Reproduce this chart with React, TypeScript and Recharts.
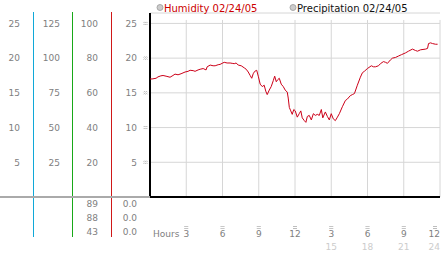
import React from "react";
import { CartesianGrid, Line, LineChart, ReferenceLine, XAxis, YAxis } from "recharts";

// humidity trace, hour of day -> value
const hours = [
  0, 0.17, 0.5, 0.66, 0.9, 1.08, 1.33, 1.66, 1.9, 2.07, 2.32, 2.57, 2.9, 3.15, 3.32, 3.57, 3.73, 3.98,
  4.15, 4.4, 4.64, 4.73, 4.98, 5.22, 5.39, 5.64, 5.8, 5.97, 6.14, 6.38, 6.63, 6.8, 6.97, 7.13, 7.3,
  7.55, 7.8, 7.96, 8.13, 8.29, 8.42, 8.54, 8.67, 8.83, 8.96, 9.12, 9.29, 9.45, 9.58, 9.7, 9.87, 10.03,
  10.2, 10.32, 10.45, 10.57, 10.7, 10.86, 11.03, 11.19, 11.36, 11.44, 11.53, 11.65, 11.77, 11.9, 12.02,
  12.19, 12.35, 12.48, 12.6, 12.77, 12.9, 13.02, 13.18, 13.35, 13.52, 13.68, 13.85, 14.01, 14.18, 14.3,
  14.51, 14.68, 14.84, 15.0, 15.17, 15.34, 15.51, 15.67, 15.92, 16.17, 16.33, 16.58, 16.75, 16.92,
  17.16, 17.41, 17.58, 17.74, 17.99, 18.32, 18.49, 18.66, 18.91, 19.07, 19.32, 19.49, 19.65, 19.9,
  20.07, 20.32, 20.56, 20.81, 21.14, 21.39, 21.72, 21.97, 22.14, 22.39, 22.8, 22.97, 23.05, 23.22,
  23.38, 23.63, 23.8,
];
const humidity = [
  17.0, 17.0, 17.1, 17.3, 17.45, 17.5, 17.4, 17.25, 17.5, 17.7, 17.6, 17.75, 18.0, 18.1, 18.25, 18.2,
  18.1, 18.3, 18.4, 18.5, 18.3, 18.75, 19.0, 18.9, 18.9, 19.05, 19.1, 19.25, 19.4, 19.3, 19.3, 19.25,
  19.2, 19.3, 19.0, 18.9, 18.6, 18.4, 18.0, 17.5, 17.1, 17.75, 18.1, 18.25, 17.4, 16.25, 15.9, 16.1,
  15.25, 14.75, 15.4, 15.9, 16.75, 17.4, 16.6, 16.9, 17.1, 16.25, 15.9, 15.4, 15.1, 14.25, 12.9, 12.4,
  11.9, 12.6, 12.4, 11.5, 12.0, 12.4, 11.4, 11.0, 10.75, 11.6, 11.75, 11.1, 12.0, 11.75, 11.9, 11.75,
  12.6, 11.4, 12.25, 11.6, 11.1, 12.0, 11.25, 11.0, 11.5, 12.0, 13.0, 13.9, 14.1, 14.6, 14.75, 14.9,
  16.1, 17.25, 17.9, 18.1, 18.5, 18.9, 18.75, 18.75, 18.9, 19.2, 19.5, 19.4, 19.25, 19.75, 20.0, 20.1,
  20.3, 20.5, 20.75, 21.0, 21.3, 21.1, 21.0, 21.2, 21.3, 21.4, 22.1, 22.2, 22.1, 22.0, 22.0,
];

const hourTicks = [3, 6, 9, 12, 15, 18, 21, 24];
const hourLabels = ["3", "6", "9", "12", "3", "6", "9", "12"];
const hourLabels24 = ["", "", "", "", "15", "18", "21", "24"];

// the four left-hand scales share the same gridlines
const humidityTicks = [5, 10, 15, 20, 25];
const col1Ticks = [5, 10, 15, 20, 25];
const col2Ticks = [25, 50, 75, 100, 125];
const col3Ticks = [20, 40, 60, 80, 100];

const col3Footer = ["89", "88", "43"];
const col4Footer = ["0.0", "0.0", "0.0"];

const data = hours.map((h, i) => ({ hour: h, humidity: humidity[i] }));

const FONT = "'DejaVu Sans', sans-serif";
const LABEL = "#808080";
const GRID = "#d6d6d6";

// tiny "≈" style tick mark, drawn as two short zigzags
const Squiggle = ({ x, y }: { x: number; y: number }) => (
  <path
    d={`M${x - 2} ${y - 0.5} l1 -1 l1 1 l1 -1 l1 1 M${x - 2} ${y + 1.5} l1 -1 l1 1 l1 -1 l1 1`}
    fill="none"
    stroke="#a0a0a0"
    strokeWidth={0.7}
  />
);

const LeftTick = (props: any) => {
  const { y, payload } = props;
  const i = humidityTicks.indexOf(payload.value);
  const cols: [number, number][] = [
    [20, col1Ticks[i]],
    [60, col2Ticks[i]],
    [98, col3Ticks[i]],
    [137, humidityTicks[i]],
  ];
  return (
    <g>
      {cols.map(([right, v]) => (
        <text key={right} x={right} y={y} dy={3.3} textAnchor="end" fontSize={9} fill={LABEL} fontFamily={FONT}>
          {v}
        </text>
      ))}
      <Squiggle x={145.5} y={y} />
    </g>
  );
};

const HourTick = (props: any) => {
  const { x, payload } = props;
  const i = hourTicks.indexOf(payload.value);
  const last = i === hourTicks.length - 1;
  const anchor = last ? "end" : "middle";
  const tx = last ? 440 : x;
  return (
    <g>
      <Squiggle x={last ? 435 : x} y={227.5} />
      <text x={tx} y={236.5} textAnchor={anchor} fontSize={9} fill={LABEL} fontFamily={FONT}>
        {hourLabels[i]}
      </text>
      <text x={tx} y={249.5} textAnchor={anchor} fontSize={9} fill="#cccccc" fontFamily={FONT}>
        {hourLabels24[i]}
      </text>
    </g>
  );
};

export default function App() {
  return (
    <div style={{ position: "absolute", left: 0, top: 0, width: 442, height: 253, background: "#fff" }}>
      <div style={{ position: "absolute", left: 0, top: 0 }}>
        <LineChart width={442} height={253} data={data} margin={{ top: 13, right: 2, bottom: 28, left: 0 }}>
          <CartesianGrid stroke={GRID} strokeWidth={1} vertical={false} />
          {hourTicks.map((h) => (
            <ReferenceLine
              key={h}
              segment={[
                { x: h, y: 25.5 },
                { x: h, y: 0 },
              ]}
              stroke={GRID}
              strokeWidth={1}
            />
          ))}
          <XAxis
            dataKey="hour"
            type="number"
            domain={[0, 24]}
            ticks={hourTicks}
            tick={<HourTick />}
            tickLine={false}
            axisLine={{ stroke: "#000", strokeWidth: 2 }}
            height={28}
            interval={0}
          />
          <YAxis
            domain={[0, 26.5]}
            ticks={humidityTicks}
            width={150}
            axisLine={false}
            tickLine={false}
            tick={<LeftTick />}
            interval={0}
          />
          <ReferenceLine x={0} stroke="#000" strokeWidth={2} />
          <Line
            type="linear"
            dataKey="humidity"
            stroke="#cc0018"
            strokeWidth={1}
            dot={false}
            isAnimationActive={false}
          />
        </LineChart>
      </div>
      <svg
        width={442}
        height={253}
        style={{ position: "absolute", left: 0, top: 0, pointerEvents: "none" }}
        shapeRendering="crispEdges"
      >
        <rect x={33} y={12} width={1} height={225} fill="#10a8d8" />
        <rect x={72} y={12} width={1} height={225} fill="#18a818" />
        <rect x={111} y={12} width={1} height={225} fill="#d01818" />
        <rect x={0} y={196} width={150} height={2} fill="#aaaaaa" />
        {col3Footer.map((v, i) => (
          <text key={"c3" + i} x={98} y={207 + i * 14} textAnchor="end" fontSize={9} fill={LABEL} fontFamily={FONT}>
            {v}
          </text>
        ))}
        {col4Footer.map((v, i) => (
          <text key={"c4" + i} x={137} y={207 + i * 14} textAnchor="end" fontSize={9} fill={LABEL} fontFamily={FONT}>
            {v}
          </text>
        ))}
        <text x={153} y={236.5} fontSize={9} fill={LABEL} fontFamily={FONT}>
          Hours
        </text>
        <circle cx={160} cy={7.5} r={3} fill="#ccc" stroke="#999" strokeWidth={0.8} shapeRendering="auto" />
        <text x={164} y={11.5} fontSize={10} fill="#cc0000" fontFamily={FONT}>
          Humidity 02/24/05
        </text>
        <circle cx={293} cy={7.5} r={3} fill="#ccc" stroke="#999" strokeWidth={0.8} shapeRendering="auto" />
        <text x={297} y={11.5} fontSize={10} fill="#111" fontFamily={FONT}>
          Precipitation 02/24/05
        </text>
      </svg>
    </div>
  );
}
